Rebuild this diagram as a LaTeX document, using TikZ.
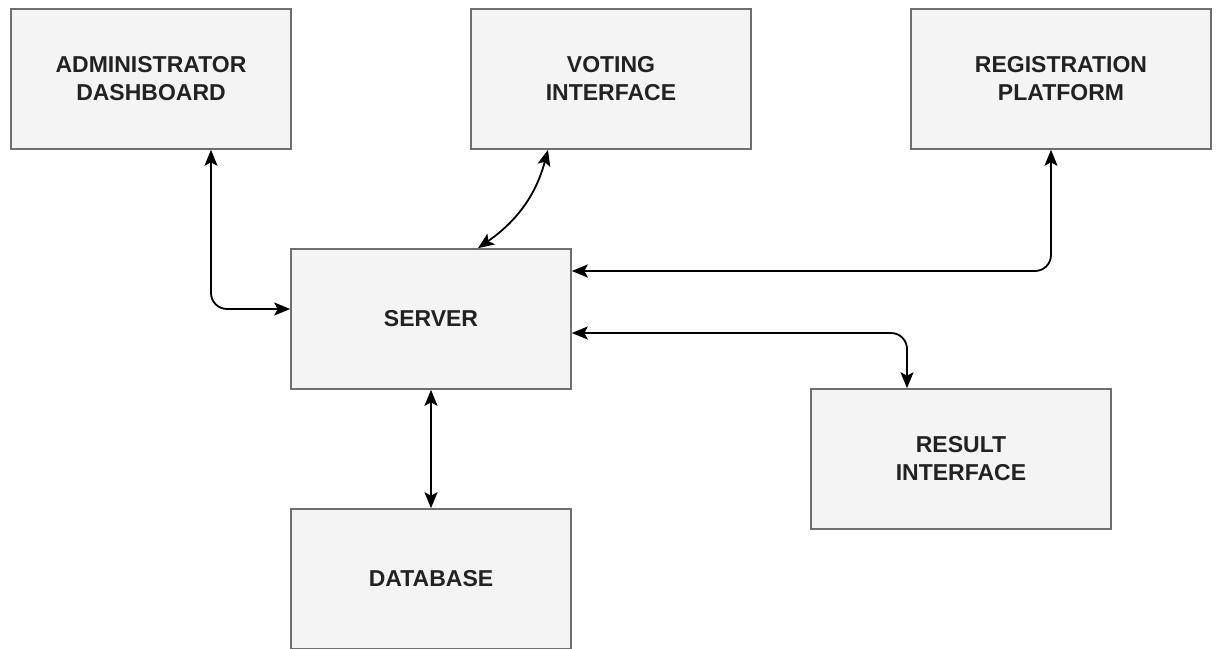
\documentclass[tikz,border=0pt]{standalone}
\usepackage{fontspec}
\setmainfont{Liberation Sans}
\usetikzlibrary{arrows.meta,positioning}
\definecolor{boxfill}{HTML}{F4F4F4}
\definecolor{boxline}{HTML}{6E6E6E}
\definecolor{txt}{HTML}{222222}
\tikzset{
  block/.style={draw=boxline, line width=1.6pt, fill=boxfill, minimum width=280pt,
    minimum height=140pt, inner sep=0pt, align=center, text=txt,
    font=\bfseries\fontsize{23pt}{28pt}\selectfont},
  wide/.style={block, minimum width=300pt},
  tip/.tip={Stealth[length=16pt,width=13pt,inset=3.5pt]},
  link/.style={line width=1.8pt, black, tip-tip},
}
\begin{document}
\begin{tikzpicture}[x=1pt,y=-1pt]
\useasboundingbox (0,0) rectangle (1218,648);
\fill[white] (0,0) rectangle (1218,648);

\node[block] (admin)  at (151,79)  {ADMINISTRATOR\\DASHBOARD};
\node[block] (voting) at (611,79)  {VOTING\\INTERFACE};
\node[wide]  (reg)    at (1061,79) {REGISTRATION\\PLATFORM};
\node[block] (server) at (431,319) {SERVER};
\node[wide]  (result) at (961,459) {RESULT\\INTERFACE};
\node[block] (db)     at (431,579) {DATABASE};

% server links
\draw[link, rounded corners=16pt] ([xshift=60pt]admin.south) |- ([yshift=10pt]server.west);
\draw[link] ([xshift=-63pt]voting.south) to[out=-105,in=35] ([xshift=47pt]server.north);
\draw[link, rounded corners=16pt] ([yshift=48pt]server.east) -| ([xshift=-10pt]reg.south);
\draw[link, rounded corners=16pt] ([yshift=-14pt]server.east) -| ([xshift=-54pt]result.north);
\draw[link] (server.south) -- (db.north);
\end{tikzpicture}
\end{document}
